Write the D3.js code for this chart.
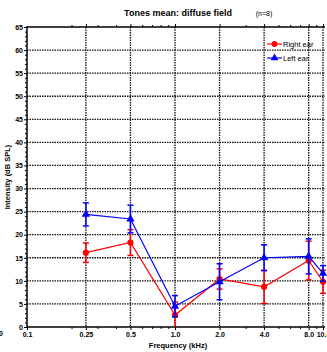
<!DOCTYPE html>
<html>
<head>
<meta charset="utf-8">
<script src="https://cdn.jsdelivr.net/npm/d3@7"></script>
<style>
  body { margin: 0; background: #fff; }
  svg { font-family: "Liberation Sans", Arial, sans-serif; }
</style>
</head>
<body>
<svg id="chart"></svg>
<script>
// values
const freqs = [0.25, 0.5, 1.0, 2.0, 4.0, 8.0, 10.0];
const xTickLabels = ["0.1", "0.25", "0.5", "1.0", "2.0", "4.0", "8.0", "10.0"];
const rightMean = [16.1, 18.3, 2.6, 10.4, 8.7, 14.4, 9.8];
const rightErr  = [2.1, 2.8, 2.8, 2.2, 3.6, 4.2, 2.5];
const leftMean  = [24.4, 23.4, 4.5, 9.8, 15.0, 15.3, 11.6];
const leftErr   = [2.5, 3.0, 2.3, 3.9, 2.8, 3.8, 1.7];
const yTicks = d3.range(0, 66, 5);

const W = 327, H = 352;
const margin = { top: 27, left: 27, right: 4, bottom: 25 };

const svg = d3.select("#chart").attr("width", W).attr("height", H);

const x = d3.scaleLog().domain([0.1, 10]).range([margin.left, W - margin.right]);
const y = d3.scaleLinear().domain([0, 65]).range([H - margin.bottom, margin.top]);

const x0 = x.range()[0], x1 = x.range()[1];
const y0 = y.range()[0], y1 = y.range()[1];

// clip
svg.append("defs").append("clipPath").attr("id", "plot")
  .append("rect").attr("x", x0).attr("y", y1).attr("width", x1 - x0 + 4).attr("height", y0 - y1);

// gridlines
const grid = svg.append("g");
grid.selectAll(".hg").data(yTicks.filter(d => d > 0 && d < 65)).join("line")
  .attr("x1", x0).attr("x2", x1 + 2)
  .attr("y1", d => y(d)).attr("y2", d => y(d))
  .attr("stroke", "#111").attr("stroke-width", 1.3).attr("stroke-dasharray", "1.5,1");
grid.selectAll(".vg").data(freqs).join("line")
  .attr("x1", d => x(d)).attr("x2", d => x(d))
  .attr("y1", y1).attr("y2", y0)
  .attr("stroke", "#111").attr("stroke-width", 1.3).attr("stroke-dasharray", "1.5,1");

// axes
const minorX = [0.2, 0.3, 0.4, 0.6, 0.7, 0.8, 0.9, 3, 5, 6, 7, 9];
const axisStyle = g => {
  g.select(".domain").remove();
  g.selectAll("text").attr("font-weight", "bold").attr("font-size", 7).attr("fill", "#000");
  g.selectAll("line").attr("stroke", "#000");
};

const xAxis = d3.axisBottom(x).tickValues([0.1, ...freqs]).tickFormat((d, i) => xTickLabels[i])
  .tickSizeInner(3).tickSizeOuter(0).tickPadding(2);
svg.append("g").attr("transform", `translate(0,${y0})`).call(xAxis).call(axisStyle);
svg.append("g").attr("transform", `translate(0,${y0})`)
  .call(d3.axisBottom(x).tickValues(minorX).tickFormat("").tickSizeInner(2).tickSizeOuter(0)).call(axisStyle);

svg.append("g").attr("transform", `translate(0,${y1})`)
  .call(d3.axisTop(x).tickValues(freqs).tickFormat("").tickSizeInner(3).tickSizeOuter(0)).call(axisStyle);
svg.append("g").attr("transform", `translate(0,${y1})`)
  .call(d3.axisTop(x).tickValues(minorX).tickFormat("").tickSizeInner(2).tickSizeOuter(0)).call(axisStyle);

const yAxis = d3.axisLeft(y).tickValues(yTicks).tickSizeInner(3).tickSizeOuter(0).tickPadding(1);
svg.append("g").attr("transform", `translate(${x0},0)`).call(yAxis).call(axisStyle);
svg.append("g").attr("transform", `translate(${x0},0)`)
  .call(d3.axisLeft(y).tickValues(d3.range(0, 66, 1).filter(d => d % 5)).tickFormat("").tickSizeInner(2).tickSizeOuter(0))
  .call(axisStyle);

// axis lines
svg.append("line").attr("x1", x0).attr("x2", x0).attr("y1", y1 - 1).attr("y2", y0)
  .attr("stroke", "#000").attr("stroke-width", 1.5);
svg.append("line").attr("x1", x0).attr("x2", x1 + 2).attr("y1", y0).attr("y2", y0)
  .attr("stroke", "#000").attr("stroke-width", 1.5);
svg.append("line").attr("x1", x0).attr("x2", x1 + 2).attr("y1", y1).attr("y2", y1)
  .attr("stroke", "#000").attr("stroke-width", 1.5);

// stray label at left
svg.append("text").attr("x", -1).attr("y", y0 + 9).attr("font-size", 7).attr("font-weight", "bold").text("0");

// series
const series = [
  { name: "Right ear", color: "#ff0000", mean: rightMean, err: rightErr, shape: d3.symbolCircle, size: 30 },
  { name: "Left ear", color: "#0000ff", mean: leftMean, err: leftErr, shape: d3.symbolTriangle, size: 30 }
];

const plot = svg.append("g").attr("clip-path", "url(#plot)");
const line = d3.line().x(d => x(d.f)).y(d => y(d.m));

series.forEach(s => {
  const pts = freqs.map((f, i) => ({ f, m: s.mean[i], e: s.err[i] }));
  const g = plot.append("g");
  g.append("path").datum(pts).attr("d", line)
    .attr("fill", "none").attr("stroke", s.color).attr("stroke-width", 1.2);
  g.selectAll(".eb").data(pts).join("line")
    .attr("x1", d => x(d.f)).attr("x2", d => x(d.f))
    .attr("y1", d => y(d.m - d.e)).attr("y2", d => y(d.m + d.e))
    .attr("stroke", s.color).attr("stroke-width", 1.5);
  [-1, 1].forEach(sign => {
    g.selectAll(".cap" + sign).data(pts).join("line")
      .attr("x1", d => x(d.f) - 3).attr("x2", d => x(d.f) + 3)
      .attr("y1", d => y(d.m + sign * d.e)).attr("y2", d => y(d.m + sign * d.e))
      .attr("stroke", s.color).attr("stroke-width", 1.5);
  });
  g.selectAll(".pt").data(pts).join("path")
    .attr("transform", d => `translate(${x(d.f)},${y(d.m)})`)
    .attr("d", d3.symbol().type(s.shape).size(s.size))
    .attr("fill", s.color);
});

// legend
const legend = svg.append("g").attr("transform", "translate(267,44)");
series.forEach((s, i) => {
  const lg = legend.append("g").attr("transform", `translate(0,${i * 14})`);
  lg.append("line").attr("x1", 0).attr("x2", 15).attr("stroke", s.color).attr("stroke-width", 1.2);
  lg.append("path").attr("transform", "translate(7.5,0)")
    .attr("d", d3.symbol().type(s.shape).size(26)).attr("fill", s.color);
  lg.append("text").attr("x", 16).attr("y", 2.5).attr("font-size", 7.5).attr("fill", "#000").text(s.name);
});

// titles
svg.append("text").attr("x", 178).attr("y", 16).attr("text-anchor", "middle")
  .attr("font-size", 9).attr("font-weight", "bold").text("Tones mean: diffuse field");
svg.append("text").attr("x", 264).attr("y", 16).attr("text-anchor", "middle")
  .attr("font-size", 7).attr("fill", "#000").text("(n=8)");
svg.append("text").attr("x", 178).attr("y", 348).attr("text-anchor", "middle")
  .attr("font-size", 7.5).attr("font-weight", "bold").text("Frequency (kHz)");
svg.append("text").attr("transform", `translate(10,${(y0 + y1) / 2}) rotate(-90)`)
  .attr("text-anchor", "middle").attr("font-size", 7.5).attr("font-weight", "bold")
  .text("Intensity (dB SPL)");
</script>
</body>
</html>
